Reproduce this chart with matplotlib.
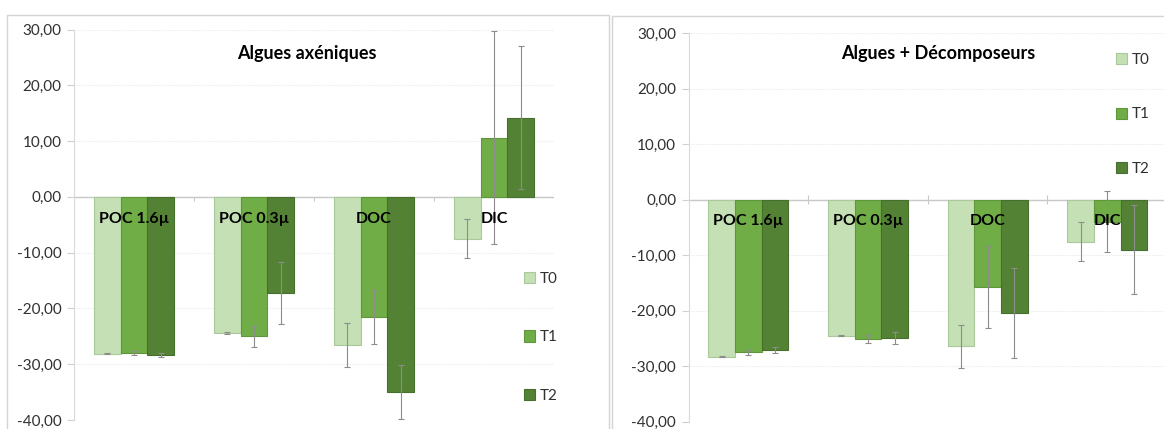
import matplotlib
matplotlib.use("Agg")
import matplotlib.pyplot as plt
from matplotlib.patches import Rectangle
import numpy as np

plt.rcParams['font.family'] = ['Lato', 'DejaVu Sans']

categories = ['POC 1.6µ', 'POC 0.3µ', 'DOC', 'DIC']
series = ['T0', 'T1', 'T2']
colors = ['#C5E0B4', '#70AD47', '#548235']
edges = ['#A9C99A', '#5E9639', '#476F2C']

# Algues axéniques
axen_t0 = [-28.1, -24.4, -26.5, -7.5]
axen_t1 = [-28.0, -25.0, -21.5, 10.6]
axen_t2 = [-28.4, -17.3, -35.0, 14.2]
axen_t0_err = [0.1, 0.1, 3.95, 3.5]
axen_t1_err = [0.3, 1.85, 4.85, 19.1]
axen_t2_err = [0.35, 5.55, 4.85, 12.8]

# Algues + Décomposeurs
deco_t0 = [-28.3, -24.5, -26.4, -7.55]
deco_t1 = [-27.5, -25.1, -15.8, -4.0]
deco_t2 = [-27.1, -24.9, -20.4, -9.0]
deco_t0_err = [0.1, 0.1, 3.9, 3.5]
deco_t1_err = [0.5, 0.7, 7.4, 5.5]
deco_t2_err = [0.55, 1.1, 8.1, 7.95]

yticks = [30, 20, 10, 0, -10, -20, -30, -40]

W, H = 1164, 429
fig = plt.figure(figsize=(W / 100, H / 100), dpi=100)

# chart frames
fig.add_artist(Rectangle((7 / W, -0.1), (609 - 7) / W, 1.1 - 15 / H,
                         transform=fig.transFigure, fill=False,
                         ec='#D4D4D4', lw=1.0))
fig.add_artist(Rectangle((612 / W, -0.1), (1200 - 612) / W, 1.1 - 16 / H,
                         transform=fig.transFigure, fill=False,
                         ec='#D4D4D4', lw=1.0))


def panel(rect, title, vals, errs, title_x, legend_xy, legend_sp, tick_up):
    ax = fig.add_axes(rect)
    x = np.arange(len(categories))
    bw = 0.223
    handles = []
    for k in range(3):
        b = ax.bar(x + (k - 1) * bw, vals[k], bw, color=colors[k],
                   edgecolor=edges[k], linewidth=0.8, zorder=3,
                   yerr=errs[k],
                   error_kw=dict(ecolor='#8C8C8C', elinewidth=0.8,
                                 capsize=2, capthick=0.8, zorder=4))
        handles.append(b)
    ax.set_xlim(-0.5, 3.5)
    ax.set_ylim(-40, 30)
    ax.set_yticks(yticks)
    ax.set_yticklabels([('%.2f' % v).replace('.', ',') for v in yticks])
    ax.tick_params(axis='y', length=5, width=0.8, color='#D0D0D0',
                   labelsize=11, labelcolor='#303030', pad=4)
    ax.set_xticks([])
    for s in ['top', 'right', 'bottom']:
        ax.spines[s].set_visible(False)
    ax.spines['left'].set_color('#D9D9D9')
    ax.spines['left'].set_linewidth(0.8)
    ax.grid(axis='y', color='#EBEBEB', lw=0.8, ls=(0, (1, 1)), zorder=0)
    ax.axhline(0, color='#C8C8C8', lw=1.0, zorder=2)
    # category separator ticks on the zero line
    hi = 0.8 if tick_up else 0.0
    ax.vlines([0.5, 1.5, 2.5, 3.5], -0.8, hi, color='#C8C8C8', lw=0.8,
              zorder=2)
    for i, c in enumerate(categories):
        ax.text(i, -3.9, c, ha='center', va='center', fontsize=11.5,
                fontweight='bold', color='black', zorder=5)
    fig.text(title_x / W, 1 - 54 / H, title, ha='center', va='center',
             fontsize=13, fontweight='bold', color='black')
    leg = fig.legend(handles, series, loc='upper left',
                     bbox_to_anchor=(legend_xy[0] / W, 1 - legend_xy[1] / H),
                     bbox_transform=fig.transFigure, frameon=False,
                     fontsize=11, handlelength=0.75, handleheight=0.75,
                     handletextpad=0.25, borderpad=0, borderaxespad=0,
                     labelspacing=legend_sp, labelcolor='#303030')
    for h in leg.legend_handles:
        h.set_linewidth(0.8)
    return ax


panel([74 / W, 1 - 420 / H, (554 - 74) / W, (420 - 29.5) / H],
      'Algues axéniques',
      [axen_t0, axen_t1, axen_t2], [axen_t0_err, axen_t1_err, axen_t2_err],
      307, (524, 272), 2.9, False)

panel([688.7 / W, 1 - 421.7 / H, (1167 - 688.7) / W, (421.7 - 33) / H],
      'Algues + Décomposeurs',
      [deco_t0, deco_t1, deco_t2], [deco_t0_err, deco_t1_err, deco_t2_err],
      938, (1116, 53), 2.65, True)

fig.savefig('out.png', dpi=100)
